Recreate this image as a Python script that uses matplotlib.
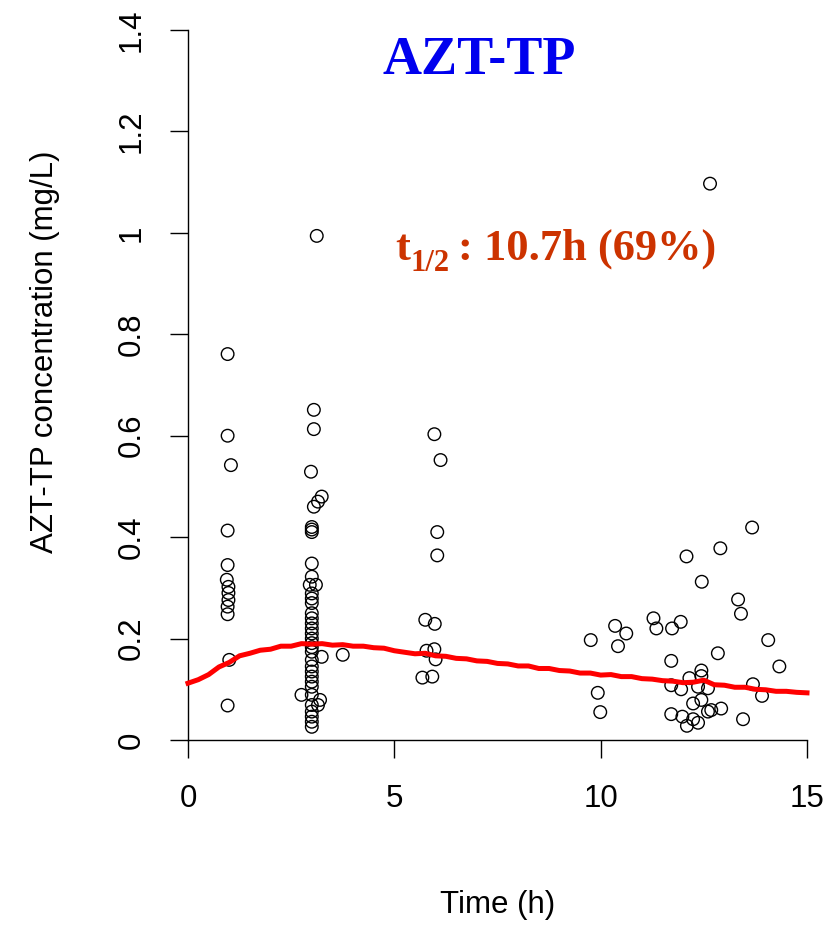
import matplotlib
matplotlib.use("Agg")
import matplotlib.pyplot as plt
import numpy as np

plt.rcParams['font.family'] = ['Liberation Sans', 'DejaVu Sans']

# observed AZT-TP concentrations (mg/L) vs time (h)
obs_time = [
    0.96, 0.96, 1.04, 0.96, 0.96, 0.94, 0.98, 0.98, 0.98, 0.96, 0.96, 1.00, 0.96,
    3.12, 3.05, 3.05, 2.98, 3.24, 3.15, 3.05, 3.00, 3.00, 3.00,
    3.00, 3.00, 2.95, 3.10, 3.00, 3.00, 3.00, 3.00, 3.00, 3.00, 3.00, 3.00, 3.00,
    3.00, 3.00, 3.00, 3.24, 3.00, 3.00, 3.00, 3.00, 3.00, 3.00, 2.75, 3.00, 3.20,
    3.00, 3.15, 3.00, 3.00, 3.00, 3.00, 3.75,
    5.97, 6.12, 6.04, 6.04, 5.75, 5.98, 5.78, 5.97, 6.00, 5.68, 5.92,
    9.76, 9.93, 9.99, 10.35, 10.42, 10.62, 11.28, 11.35, 11.73, 11.94, 11.71,
    12.08, 12.45, 12.90, 13.33, 13.40, 13.67, 14.06, 14.33, 12.84, 12.65,
    12.44, 12.44, 12.15, 11.71, 11.95, 12.36, 12.60, 13.69, 13.91, 12.44, 12.24,
    12.92, 12.68, 12.60, 11.71, 11.98, 12.24, 12.36, 12.09, 13.45,
]
obs_conc = [
    0.761, 0.600, 0.542, 0.413, 0.345, 0.316, 0.302, 0.290, 0.276, 0.263, 0.248, 0.158, 0.068,
    0.994, 0.651, 0.613, 0.529, 0.480, 0.470, 0.460, 0.420, 0.415, 0.410,
    0.348, 0.322, 0.306, 0.306, 0.289, 0.279, 0.270, 0.250, 0.240, 0.230, 0.220, 0.210, 0.200,
    0.191, 0.183, 0.174, 0.164, 0.158, 0.145, 0.135, 0.125, 0.115, 0.105, 0.089, 0.089, 0.079,
    0.069, 0.069, 0.056, 0.046, 0.036, 0.026, 0.168,
    0.603, 0.552, 0.410, 0.364, 0.237, 0.229, 0.176, 0.179, 0.159, 0.123, 0.125,
    0.197, 0.093, 0.055, 0.225, 0.185, 0.210, 0.240, 0.220, 0.220, 0.233, 0.156,
    0.362, 0.312, 0.378, 0.277, 0.249, 0.419, 0.197, 0.145, 0.171, 1.097,
    0.137, 0.126, 0.122, 0.108, 0.100, 0.105, 0.102, 0.110, 0.087, 0.079, 0.072,
    0.062, 0.059, 0.056, 0.051, 0.046, 0.041, 0.034, 0.028, 0.041,
]

# model median curve
curve_time = [
    0.0, 0.25, 0.5, 0.75, 1.0, 1.25, 1.5, 1.75, 2.0, 2.25, 2.5, 2.75, 3.0, 3.25,
    3.5, 3.75, 4.0, 4.25, 4.5, 4.75, 5.0, 5.25, 5.5, 5.75, 6.0, 6.25, 6.5, 6.75,
    7.0, 7.25, 7.5, 7.75, 8.0, 8.25, 8.5, 8.75, 9.0, 9.25, 9.5, 9.75, 10.0, 10.25,
    10.5, 10.75, 11.0, 11.25, 11.5, 11.75, 12.0, 12.25, 12.5, 12.75, 13.0, 13.25,
    13.5, 13.75, 14.0, 14.25, 14.5, 14.75, 15.0,
]
curve_conc = [
    0.112, 0.119, 0.129, 0.144, 0.153, 0.166, 0.171, 0.177, 0.179, 0.185, 0.185, 0.190, 0.189, 0.190,
    0.187, 0.188, 0.185, 0.185, 0.182, 0.181, 0.176, 0.173, 0.170, 0.171, 0.166, 0.165, 0.161, 0.160,
    0.156, 0.155, 0.151, 0.150, 0.146, 0.146, 0.141, 0.141, 0.137, 0.136, 0.132, 0.132, 0.128, 0.129,
    0.125, 0.125, 0.121, 0.120, 0.117, 0.116, 0.113, 0.114, 0.118, 0.109, 0.108, 0.104, 0.104, 0.100,
    0.099, 0.096, 0.096, 0.094, 0.093,
]

W, H = 829, 925
fig = plt.figure(figsize=(W / 100, H / 100), dpi=100)
ax = fig.add_axes([188 / W, 1 - 740 / H, 619 / W, 710 / H])

ax.scatter(obs_time, obs_conc, s=82, facecolors='none', edgecolors='black',
           linewidths=1.0, zorder=2, clip_on=False)
ax.plot(curve_time, curve_conc, color='#ff0000', lw=3.6, zorder=3, clip_on=False)

ax.set_xlim(0, 15)
ax.set_ylim(0, 1.4)
ax.set_xticks([0, 5, 10, 15])
ax.set_yticks([0, 0.2, 0.4, 0.6, 0.8, 1.0, 1.2, 1.4])
ax.set_yticklabels(['0', '0.2', '0.4', '0.6', '0.8', '1', '1.2', '1.4'],
                   rotation=90, va='center')
ax.spines['top'].set_visible(False)
ax.spines['right'].set_visible(False)
for sp in ['left', 'bottom']:
    ax.spines[sp].set_linewidth(1.0)
ax.tick_params(axis='both', length=13, width=1.0, labelsize=22.5)
ax.tick_params(axis='x', pad=19)
ax.tick_params(axis='y', pad=17)

ax.set_xlabel('Time (h)', fontsize=22.5)
ax.xaxis.set_label_coords(0.5, (740 - 905) / 710)
ax.xaxis.label.set_va('center')
ax.set_ylabel('AZT-TP concentration (mg/L)', fontsize=22.5)
ax.yaxis.set_label_coords((45 - 188) / 619, (740 - 352) / 710)
ax.yaxis.label.set_va('center')

# title and half-life annotation
fig.text(479 / W, 1 - 74 / H, 'AZT-TP', color='#0000ee', fontsize=39,
         fontweight='bold', family='Liberation Serif', ha='center', va='baseline')

red = '#cc3300'
fig.text(395 / W, 1 - 260 / H, 't', color=red, fontsize=32, fontweight='bold',
         family='Liberation Serif', ha='left', va='baseline')
fig.text(411 / W, 1 - 271 / H, '1/2', color=red, fontsize=22, fontweight='bold',
         family='Liberation Serif', ha='left', va='baseline')
fig.text(458 / W, 1 - 260 / H, ': 10.7h (69%)', color=red, fontsize=32,
         fontweight='bold', family='Liberation Serif', ha='left', va='baseline')

fig.savefig('out.png', dpi=100)
